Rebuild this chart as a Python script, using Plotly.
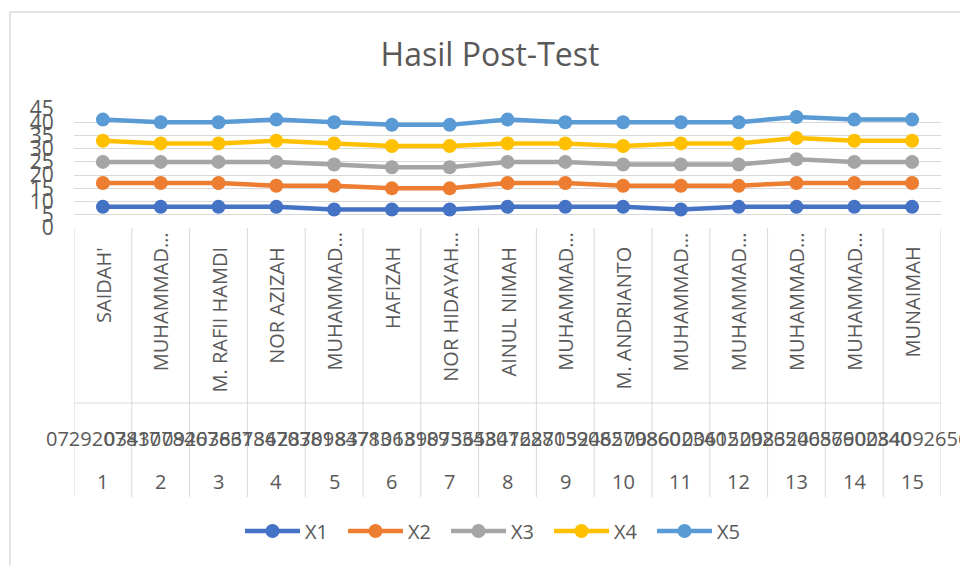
import plotly.graph_objects as go

# ---------------- data ----------------
names = ["SAIDAH'", "MUHAMMAD…", "M. RAFII HAMDI", "NOR AZIZAH", "MUHAMMAD…",
         "HAFIZAH", "NOR HIDAYAH…", "AINUL NIMAH", "MUHAMMAD…", "M. ANDRIANTO",
         "MUHAMMAD…", "MUHAMMAD…", "MUHAMMAD…", "MUHAMMAD…", "MUNAIMAH"]
ids = ["0729207817", "0343078467", "0920386136", "6378470381", "2870984783",
       "8371063189", "1890753430", "3658416870", "7228159082", "3246579860",
       "0086023402", "0061529265", "0083246579", "0086602340", "0084092656"]
nums = ["1", "2", "3", "4", "5", "6", "7", "8", "9", "10", "11", "12", "13", "14", "15"]

x1 = [8, 8, 8, 8, 7, 7, 7, 8, 8, 8, 7, 8, 8, 8, 8]
x2 = [17, 17, 17, 16, 16, 15, 15, 17, 17, 16, 16, 16, 17, 17, 17]
x3 = [25, 25, 25, 25, 24, 23, 23, 25, 25, 24, 24, 24, 26, 25, 25]
x4 = [33, 32, 32, 33, 32, 31, 31, 32, 32, 31, 32, 32, 34, 33, 33]
x5 = [41, 40, 40, 41, 40, 39, 39, 41, 40, 40, 40, 40, 42, 41, 41]
series = [("X1", x1, "#4472C4"), ("X2", x2, "#ED7D31"), ("X3", x3, "#A5A5A5"),
          ("X4", x4, "#FFC000"), ("X5", x5, "#5B9BD5")]

# ---------------- layout geometry ----------------
W, H = 960, 565
L, R, T, B = 74, 19, 109, 337
PW, PH = W - L - R, H - T - B
FONT = "Open Sans"
TXT = "#595959"
GRID = "#D9D9D9"


def px(xp):
    return (xp - L) / PW


def py(yp):
    return (H - B - yp) / PH


pos = list(range(len(names)))

fig = go.Figure()
for nm, vals, col in series:
    fig.add_trace(go.Scatter(
        x=pos, y=vals, name=nm, mode="lines+markers",
        line=dict(color=col, width=4.5),
        marker=dict(color=col, size=14, symbol="circle"),
    ))

shapes = []
# category boundary lines in the label area
for i in range(len(names) + 1):
    shapes.append(dict(type="line", xref="x", yref="paper",
                       x0=i - 0.5, x1=i - 0.5, y0=0, y1=py(497),
                       line=dict(color=GRID, width=1)))
shapes.append(dict(type="line", xref="x", yref="paper",
                   x0=-0.5, x1=len(names) - 0.5, y0=py(403), y1=py(403),
                   line=dict(color=GRID, width=1)))
# outer chart border (left and top visible)
shapes.append(dict(type="line", xref="paper", yref="paper",
                   x0=px(10), x1=px(10), y0=py(12), y1=py(570),
                   line=dict(color=GRID, width=1.5)))
shapes.append(dict(type="line", xref="paper", yref="paper",
                   x0=px(10), x1=px(970), y0=py(12), y1=py(12),
                   line=dict(color=GRID, width=1.5)))

annotations = []
for i, nm in enumerate(names):
    top = 230 if nm.endswith("…") else 245
    annotations.append(dict(x=i, y=py(top), xref="x", yref="paper",
                            text=nm, textangle=-90, showarrow=False,
                            xanchor="center", yanchor="top",
                            font=dict(family=FONT, size=20, color=TXT)))
    annotations.append(dict(x=i, y=py(438), xref="x", yref="paper",
                            text=ids[i], showarrow=False,
                            xanchor="center", yanchor="middle",
                            font=dict(family=FONT, size=20, color=TXT)))
    annotations.append(dict(x=i, y=py(481), xref="x", yref="paper",
                            text=nums[i], showarrow=False,
                            xanchor="center", yanchor="middle",
                            font=dict(family=FONT, size=20, color=TXT)))

fig.update_layout(
    width=W, height=H,
    margin=dict(l=L, r=R, t=T, b=B, autoexpand=False),
    paper_bgcolor="white", plot_bgcolor="white",
    font=dict(family=FONT, color=TXT),
    title=dict(text="Hasil Post-Test", x=490 / W, xref="container", xanchor="center",
               y=1 - 55 / H, yref="container", yanchor="middle",
               font=dict(family=FONT, size=32, color=TXT)),
    xaxis=dict(range=[-0.5, len(names) - 0.5], showticklabels=False,
               showgrid=False, zeroline=False, showline=False, fixedrange=True),
    yaxis=dict(range=[0, 45], dtick=5, tick0=0, showgrid=True, gridcolor=GRID,
               gridwidth=1, zeroline=False, showline=False, fixedrange=True,
               ticks="outside", ticklen=15, tickcolor="rgba(0,0,0,0)",
               tickfont=dict(family=FONT, size=21, color=TXT)),
    legend=dict(orientation="h", x=240 / W, xref="container", xanchor="left",
                y=(H - 531) / H, yref="container", yanchor="middle", itemwidth=55,
                entrywidth=33, entrywidthmode="pixels",
                font=dict(family=FONT, size=20, color=TXT),
                bgcolor="rgba(0,0,0,0)"),
    shapes=shapes,
    annotations=annotations,
    showlegend=True,
)

fig.write_html("out.html", config={"displayModeBar": False},
               post_script="document.body.style.margin='0';")
